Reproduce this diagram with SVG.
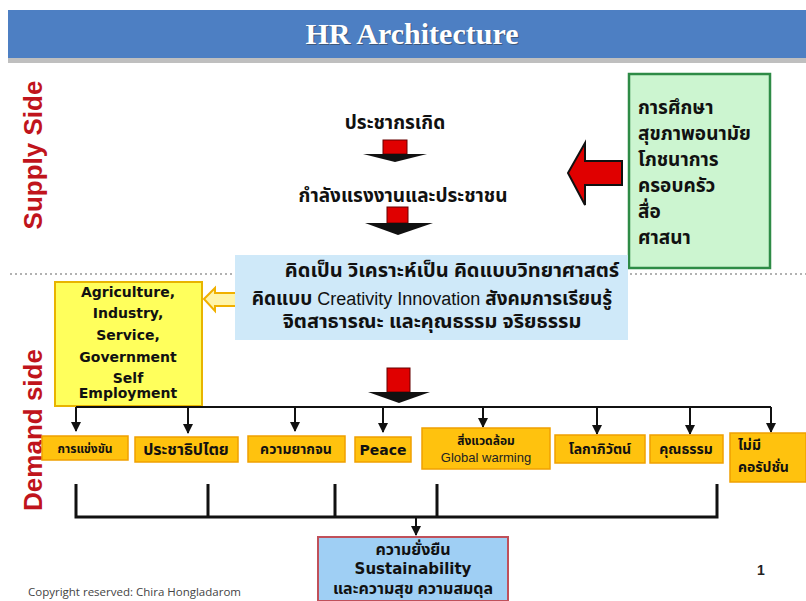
<svg xmlns="http://www.w3.org/2000/svg" width="806" height="601" viewBox="0 0 806 601">
<defs>
<style>
.th{font-family:"Noto Sans Thai","Noto Sans","DejaVu Sans",sans-serif;font-weight:bold;fill:#111}
.en{font-family:"DejaVu Sans",sans-serif;font-weight:bold;fill:#111}
.side{font-family:"Liberation Sans",Arial,sans-serif;font-weight:bold;font-size:26px;fill:#c0141c}
.ob{fill:#ffc20e;stroke:#f0a000;stroke-width:1.5}
.ln{stroke:#111;stroke-width:2;fill:none}
.br{stroke:#111;stroke-width:3;fill:none}
</style>
<marker id="ah" viewBox="0 0 10 10" refX="9" refY="5" markerWidth="5" markerHeight="5" orient="auto"><path d="M0,0 L10,5 L0,10 z" fill="#111"/></marker>
</defs>
<rect width="806" height="601" fill="#fff"/>
<g id="title">
<rect x="8" y="10" width="798" height="48" fill="#4d7fc3"/>
<rect x="8" y="58" width="798" height="5" fill="#bfbfbf"/>
<text x="413" y="45" text-anchor="middle" font-family="Liberation Serif,serif" font-weight="bold" font-size="30" fill="#333" opacity="0.5">HR Architecture</text>
<text x="412" y="44" text-anchor="middle" font-family="Liberation Serif,serif" font-weight="bold" font-size="30" fill="#fff">HR Architecture</text>
</g>
<g id="labels">
<text class="side" transform="translate(42,155) rotate(-90)" text-anchor="middle">Supply Side</text>
<text class="side" transform="translate(42,430) rotate(-90)" text-anchor="middle">Demand side</text>
<line x1="10" y1="274" x2="234" y2="274" stroke="#999" stroke-width="1.5" stroke-dasharray="2,3"/>
<line x1="630" y1="274" x2="806" y2="274" stroke="#999" stroke-width="1.5" stroke-dasharray="2,3"/>
</g>
<g id="birth"><text class="th" x="395" y="129" font-size="19" text-anchor="middle">ประชากรเกิด</text></g>
<g id="labor"><text class="th" x="403" y="202" font-size="19" text-anchor="middle">กำลังแรงงานและประชาชน</text></g>
<g id="arrows">
<g id="arrow1"><rect x="383" y="140" width="24" height="14" fill="#e00000" stroke="#600"/><path d="M363,154 L427,154 L395,162 Z" fill="#111"/></g>
<g id="arrow2"><rect x="387" y="207" width="21" height="16" fill="#e00000" stroke="#600"/><path d="M365,223 L433,223 L398,235 Z" fill="#111"/></g>
<g id="arrow3"><rect x="387" y="368" width="23" height="24" fill="#e00000" stroke="#600"/><path d="M368,392 L430,392 L399,403 Z" fill="#111"/></g>
<g id="arrowLeft"><path d="M568,173 L585,143 L585,161 L622,161 L622,185 L585,185 L585,205 Z" fill="#e00000" stroke="#111" stroke-width="2"/></g>
<g id="arrowYellow"><path d="M204,299 L215,288 L215,293 L240,293 L240,306 L215,306 L215,311 Z" fill="#fff4a8" stroke="#f0b000" stroke-width="2"/></g>
</g>
<g id="factors">
<rect x="629" y="74" width="141" height="194" fill="#ccf5d0" stroke="#2e8b46" stroke-width="2.5"/>
<text class="th" font-size="19"><tspan x="638" y="114">การศึกษา</tspan><tspan x="638" y="140">สุขภาพอนามัย</tspan><tspan x="638" y="166">โภชนาการ</tspan><tspan x="638" y="192">ครอบครัว</tspan><tspan x="638" y="218">สื่อ</tspan><tspan x="638" y="244">ศาสนา</tspan></text>
</g>
<g id="thinking">
<rect x="235" y="255" width="393" height="85" fill="#cfe9f9"/>
<text class="th" x="452" y="277" font-size="20" text-anchor="middle">คิดเป็น วิเคราะห์เป็น คิดแบบวิทยาศาสตร์</text>
<text class="th" x="432" y="305" font-size="19" text-anchor="middle">คิดแบบ <tspan font-weight="normal" font-family="Liberation Sans,sans-serif" font-size="18">Creativity Innovation</tspan> สังคมการเรียนรู้</text>
<text class="th" x="432" y="328" font-size="20" text-anchor="middle">จิตสาธารณะ และคุณธรรม จริยธรรม</text>
</g>
<g id="sectors">
<rect x="55" y="282" width="147" height="124" fill="#ffff5c" stroke="#e8b400" stroke-width="2"/>
<text class="en" font-size="14" text-anchor="middle"><tspan x="128" y="297">Agriculture,</tspan><tspan x="128" y="318">Industry,</tspan><tspan x="128" y="340">Service,</tspan><tspan x="128" y="362">Government</tspan><tspan x="128" y="383">Self</tspan><tspan x="128" y="398">Employment</tspan></text>
</g>
<g id="connectors">
<path class="ln" d="M76,407 L771,407"/>
<path class="ln" d="M76,407 V431" marker-end="url(#ah)"/>
<path class="ln" d="M188,407 V433" marker-end="url(#ah)"/>
<path class="ln" d="M295,407 V431" marker-end="url(#ah)"/>
<path class="ln" d="M383,407 V432" marker-end="url(#ah)"/>
<path class="ln" d="M483,407 V427" marker-end="url(#ah)"/>
<path class="ln" d="M597,407 V434" marker-end="url(#ah)"/>
<path class="ln" d="M690,407 V434" marker-end="url(#ah)"/>
<path class="ln" d="M771,407 V432" marker-end="url(#ah)"/>
<path class="br" d="M76,484 V517 H717 V484 M208,484 V517 M335,484 V517 M437,484 V517"/>
<path class="ln" d="M416,517 V535" marker-end="url(#ah)"/>
</g>
<g id="n1"><rect class="ob" x="42" y="436" width="86" height="24"/><text class="th" x="85" y="453" font-size="12" font-weight="normal" text-anchor="middle">การแข่งขัน</text></g>
<g id="n2"><rect class="ob" x="135" y="437" width="103" height="25"/><text class="th" x="186" y="455" font-size="16" text-anchor="middle">ประชาธิปไตย</text></g>
<g id="n3"><rect class="ob" x="248" y="436" width="97" height="26"/><text class="th" x="296" y="454" font-size="14" text-anchor="middle">ความยากจน</text></g>
<g id="n4"><rect class="ob" x="355" y="437" width="56" height="25"/><text class="en" x="383" y="455" font-size="14" text-anchor="middle">Peace</text></g>
<g id="n5"><rect class="ob" x="422" y="428" width="128" height="41"/><text class="th" x="486" y="445" font-size="12" font-weight="normal" text-anchor="middle">สิ่งแวดล้อม</text><text x="486" y="462" font-size="13" text-anchor="middle" font-family="Liberation Sans,sans-serif" fill="#222">Global warming</text></g>
<g id="n6"><rect class="ob" x="555" y="435" width="90" height="28"/><text class="th" x="600" y="454" font-size="14" text-anchor="middle">โลกาภิวัตน์</text></g>
<g id="n7"><rect class="ob" x="650" y="435" width="73" height="28"/><text class="th" x="686" y="454" font-size="14" text-anchor="middle">คุณธรรม</text></g>
<g id="n8"><rect class="ob" x="730" y="433" width="76" height="49"/><text class="th" font-size="14"><tspan x="738" y="450">ไม่มี</tspan><tspan x="738" y="472">คอรัปชั่น</tspan></text></g>
<g id="goal">
<rect x="318" y="537" width="190" height="64" fill="#9fcff4" stroke="#c0505a" stroke-width="2"/>
<text class="th" font-size="16" text-anchor="middle"><tspan x="413" y="555">ความยั่งยืน</tspan><tspan x="413" y="574" class="en" font-size="15">Sustainability</tspan><tspan x="413" y="594">และความสุข ความสมดุล</tspan></text>
</g>
<text x="28" y="596" font-family="Open Sans,sans-serif" font-size="11.5" fill="#444">Copyright reserved: Chira Hongladarom</text>
<text x="757" y="575" font-family="Liberation Sans,sans-serif" font-weight="bold" font-size="14" fill="#222">1</text>
</svg>
